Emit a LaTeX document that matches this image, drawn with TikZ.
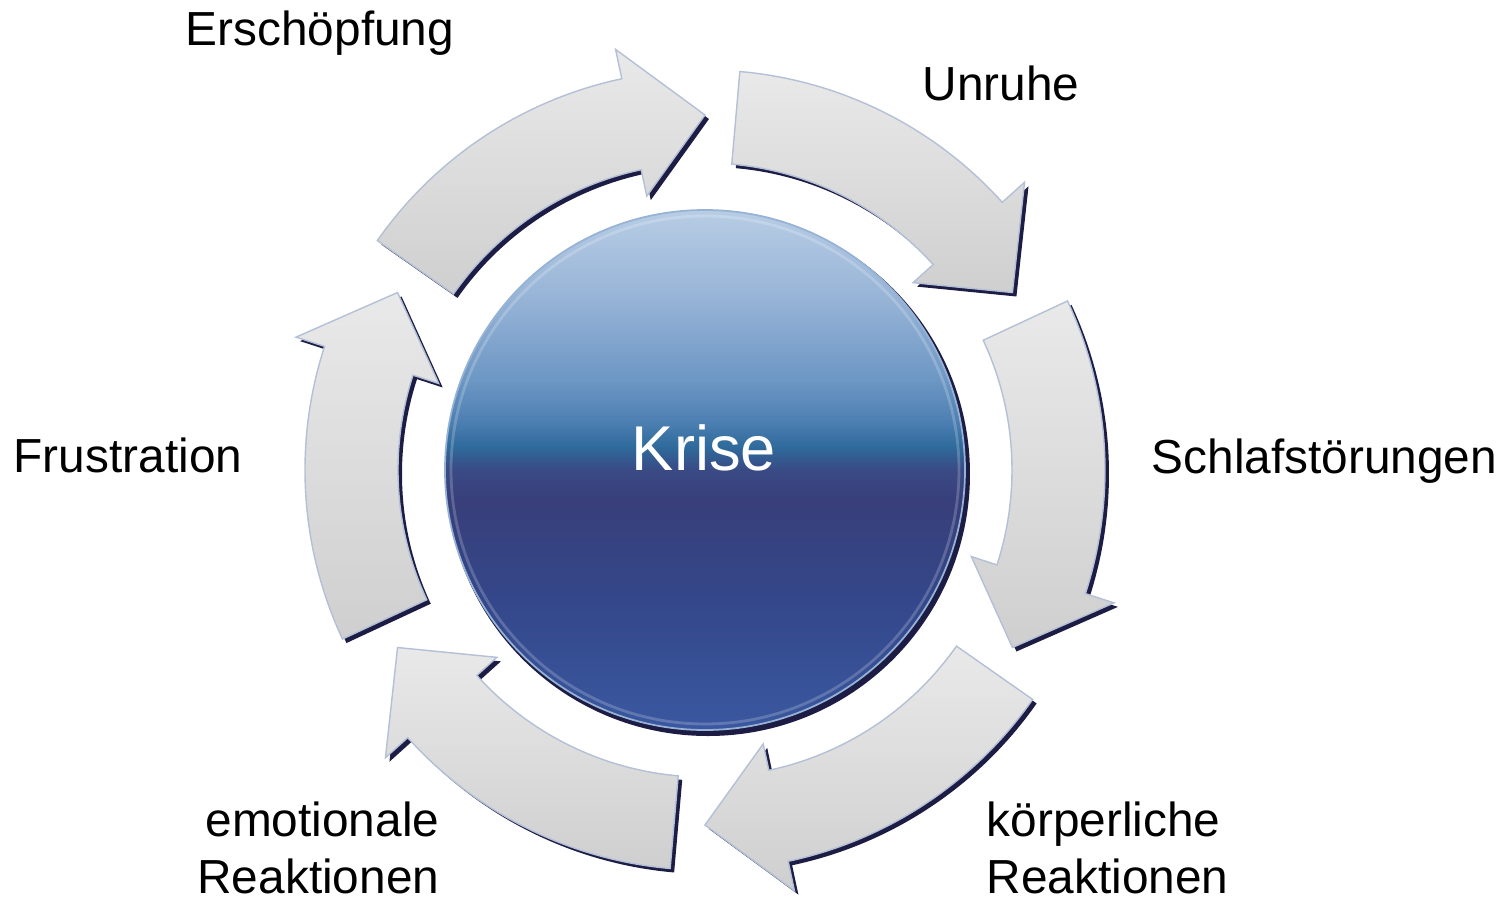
\documentclass[tikz,border=0pt]{standalone}
\usepackage{fontspec}
\setmainfont{Liberation Sans}

\definecolor{pfeilhell}{HTML}{E9E9E9}
\definecolor{pfeildunkel}{HTML}{CFCFCF}
\definecolor{pfeilrand}{HTML}{B4C0D6}
\definecolor{schattenblau}{HTML}{1C1C44}
\definecolor{k1}{HTML}{B8CDE5}
\definecolor{k2}{HTML}{96B3D6}
\definecolor{k3}{HTML}{6D97C4}
\definecolor{k4}{HTML}{4F80B3}
\definecolor{k5}{HTML}{2E6A9B}
\definecolor{k6}{HTML}{3A4A85}
\definecolor{k7}{HTML}{383F7A}
\definecolor{k8}{HTML}{34478A}
\definecolor{k9}{HTML}{3A58A0}

\pgfdeclareverticalshading{kugel}{100bp}{color(0bp)=(k9); color(25bp)=(k9);
  color(37.5bp)=(k8); color(47.1bp)=(k7); color(50bp)=(k6); color(52.2bp)=(k5);
  color(54.8bp)=(k4); color(58.7bp)=(k3); color(66.3bp)=(k2); color(75bp)=(k1);
  color(100bp)=(k1)}

\tikzstyle{pfeil} = [top color=pfeilhell,bottom color=pfeildunkel,draw=pfeilrand,line width=0.4pt]
\tikzstyle{schatten} = [fill=schattenblau]
\tikzstyle{beschriftung} = [inner sep=0pt,font=\fontsize{13.6}{16.2}\selectfont]
\tikzstyle{kern} = [inner sep=0pt,text=white,font=\fontsize{18}{20}\selectfont]

% curved block arrow, tip at angle #1
\newcommand{\pfeilform}[1]{(#1+55:400) arc [start angle=#1+55,end angle=#1+12,radius=400]
  -- (#1+12:430) -- (#1:355) -- (#1+12:280) -- (#1+12:307)
  arc [start angle=#1+12,end angle=#1+55,radius=307] -- cycle}
\newcommand{\pfeil}[1]{%
  \fill [schatten,shift={(4,-4)}] \pfeilform{#1};
  \shade [pfeil] \pfeilform{#1};}

\begin{document}
\begin{tikzpicture}[x=0.1mm,y=0.1mm]

\useasboundingbox (-705,-429) rectangle (805,470);

% Circle in the middle
\fill [schatten] (3,-4) circle (262);
\shade [shading=kugel,draw=k2,line width=0.5pt] (0,0) circle (260);
\draw [white,opacity=0.2,line width=0.8pt] (0,0) circle (254);
\node [kern,anchor=base] (krise) at (-1,0) {Krise};

% Arrows round the circle
\pfeil{90}
\pfeil{30}
\pfeil{-30}
\pfeil{-90}
\pfeil{-150}
\pfeil{150}

% Labels
\node [beschriftung,anchor=base] (erschoepfung) at (-385,425) {Erschöpfung};
\node [beschriftung,anchor=base] (unruhe) at (296,370) {Unruhe};
\node [beschriftung,anchor=base west] (schlaf) at (446,-3) {Schlafstörungen};
\node [beschriftung,anchor=base] (frust) at (-577,-2) {Frustration};
\node [beschriftung,align=left,anchor=south west] (koerper) at (281,-425) {körperliche\\Reaktionen};
\node [beschriftung,align=right,anchor=south east] (emotion) at (-265,-425) {emotionale\\Reaktionen};

\end{tikzpicture}
\end{document}
